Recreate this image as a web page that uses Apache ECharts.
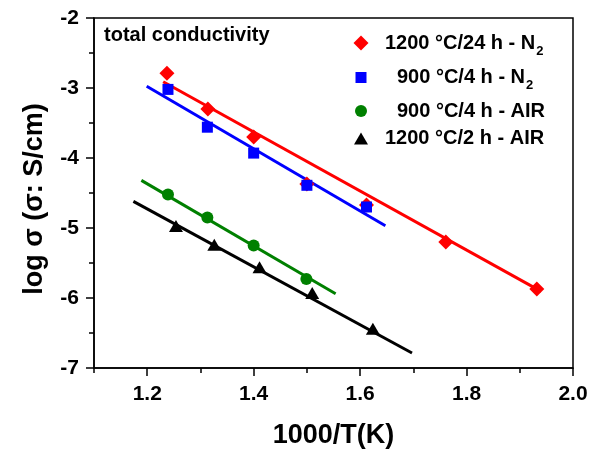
<!DOCTYPE html>
<html><head><meta charset="utf-8">
<script src="https://cdn.jsdelivr.net/npm/echarts@6/dist/echarts.min.js"></script>
<style>html,body{margin:0;padding:0;background:#fff}#c{width:600px;height:451px}</style>
</head><body><div id="c"></div>
<script>
// ---- data ----
const seriesNames = ['1200 °C/24 h - N2', '900 °C/4 h - N2', '900 °C/4 h - AIR', '1200 °C/2 h - AIR'];
const red24N2   = [[1.237,-2.79],[1.314,-3.30],[1.400,-3.70],[1.500,-4.37],[1.612,-4.67],[1.761,-5.20],[1.932,-5.87]];
const blue4N2   = [[1.239,-3.02],[1.313,-3.56],[1.400,-3.93],[1.500,-4.39],[1.612,-4.70]];
const green4Air = [[1.239,-4.52],[1.313,-4.85],[1.400,-5.25],[1.499,-5.73]];
const black2Air = [[1.254,-4.97],[1.326,-5.24],[1.411,-5.56],[1.510,-5.93],[1.624,-6.44]];
const redFit   = [[1.230,-2.91],[1.940,-5.905]];
const blueFit  = [[1.199,-2.976],[1.6475,-4.967]];
const greenFit = [[1.189,-4.32],[1.554,-5.94]];
const blackFit = [[1.174,-4.62],[1.6975,-6.786]];
const xMajorTicks = [1.2, 1.4, 1.6, 1.8, 2.0];
const xMinorTicks = [1.1, 1.3, 1.5, 1.7, 1.9];
const yTicks = [-7, -6, -5, -4, -3, -2];
const titleText = 'total conductivity';
const xName = '1000/T(K)';
const yName = 'log σ (σ: S/cm)';

const FONT = '"Liberation Sans", Arial, Helvetica, sans-serif';
const colors = ['#ff0000', '#0000ff', '#008000', '#000000'];
const symbols = ['diamond', 'rect', 'circle', 'triangle'];
const symW = [15, 11, 12, 14];
const symH = [15, 11, 12, 12];

function fmt(name) {
  if (/N2$/.test(name)) return '{a|' + name.slice(0, -1) + '}{s|2}';
  return '{a|' + name + '}';
}
// legend rows: [symbol center y, text start x]
const legendRows = [[42.5, 385], [77, 397], [112, 397], [139.5, 385]];
const legends = seriesNames.map((n, i) => {
  const W = symW[i], H = symH[i];
  const hasSub = /N2$/.test(n);
  const half = hasSub ? 14 : 11;
  const textX = 361 + W / 2 + 5;
  const pad = legendRows[i][1] - textX;
  return {
    data: [{ name: n, icon: symbols[i] }],
    left: 361 - W / 2, top: legendRows[i][0] - half,
    padding: 0, itemWidth: W, itemHeight: H, itemGap: 0,
    selectedMode: false,
    formatter: fmt,
    textStyle: {
      rich: {
        a: { fontSize: 20, fontWeight: 'bold', fontFamily: FONT, color: '#000', lineHeight: 22, padding: [0, 0, 0, pad] },
        s: { fontSize: 13, fontWeight: 'bold', fontFamily: FONT, color: '#000', lineHeight: 12, padding: [16, 0, 0, 1] }
      }
    }
  };
});

const fits = [redFit, blueFit, greenFit, blackFit];
const pts = [red24N2, blue4N2, green4Air, black2Air];
const series = [];
fits.forEach((f, i) => series.push({
  type: 'line', data: f, showSymbol: false, symbol: 'none', silent: true, z: 2,
  lineStyle: { color: colors[i], width: 3 }, animation: false
}));
pts.forEach((p, i) => series.push({
  type: 'scatter', name: seriesNames[i], data: p, symbol: symbols[i], symbolSize: [symW[i], symH[i]], z: 3,
  itemStyle: { color: colors[i], opacity: 1 }, animation: false
}));

const chart = echarts.init(document.getElementById('c'), null, { renderer: 'canvas' });
chart.setOption({
  backgroundColor: '#fff',
  animation: false,
  title: {
    text: titleText, left: 104, top: 25, padding: 0,
    textStyle: { fontSize: 20, fontWeight: 'bold', fontFamily: FONT, color: '#000' }
  },
  legend: legends,
  grid: { left: 94, right: 27, top: 18, bottom: 83, outerBoundsMode: 'none', containLabel: false,
          show: true, borderColor: '#000', borderWidth: 1.5, backgroundColor: 'transparent' },
  xAxis: [{
    type: 'value', min: 1.1, max: 2.0, position: 'bottom',
    name: xName, nameLocation: 'middle', nameGap: 54,
    nameTextStyle: { fontSize: 27, fontWeight: 'bold', fontFamily: FONT, color: '#000' },
    axisLine: { show: true, lineStyle: { color: '#000', width: 1.5 } },
    axisTick: { show: true, customValues: xMajorTicks, length: 8, inside: false, lineStyle: { color: '#000', width: 1.5 } },
    axisLabel: { customValues: xMajorTicks, margin: 16, fontSize: 21, fontWeight: 'bold', fontFamily: FONT, color: '#000', formatter: v => v.toFixed(1) },
    splitLine: { show: false }
  }, {
    type: 'value', min: 1.1, max: 2.0, position: 'bottom',
    axisLine: { show: false },
    axisTick: { show: true, customValues: xMinorTicks, length: 5, inside: false, lineStyle: { color: '#000', width: 1.5 } },
    axisLabel: { show: false },
    splitLine: { show: false }
  }],
  yAxis: {
    type: 'value', min: yTicks[0], max: yTicks[yTicks.length - 1], interval: 1,
    name: yName, nameLocation: 'middle', nameGap: 46,
    nameTextStyle: { fontSize: 27, fontWeight: 'bold', fontFamily: FONT, color: '#000', padding: [0, 12, 0, 0] },
    axisLine: { show: true, lineStyle: { color: '#000', width: 1.5 } },
    axisTick: { show: true, length: 8, inside: false, lineStyle: { color: '#000', width: 1.5 } },
    minorTick: { show: true, splitNumber: 2, length: 5, lineStyle: { color: '#000', width: 1.5 } },
    axisLabel: { margin: 15, fontSize: 21, fontWeight: 'bold', fontFamily: FONT, color: '#000', formatter: v => String(v) },
    splitLine: { show: false }, minorSplitLine: { show: false }
  },
  series: series
});
</script></body></html>
